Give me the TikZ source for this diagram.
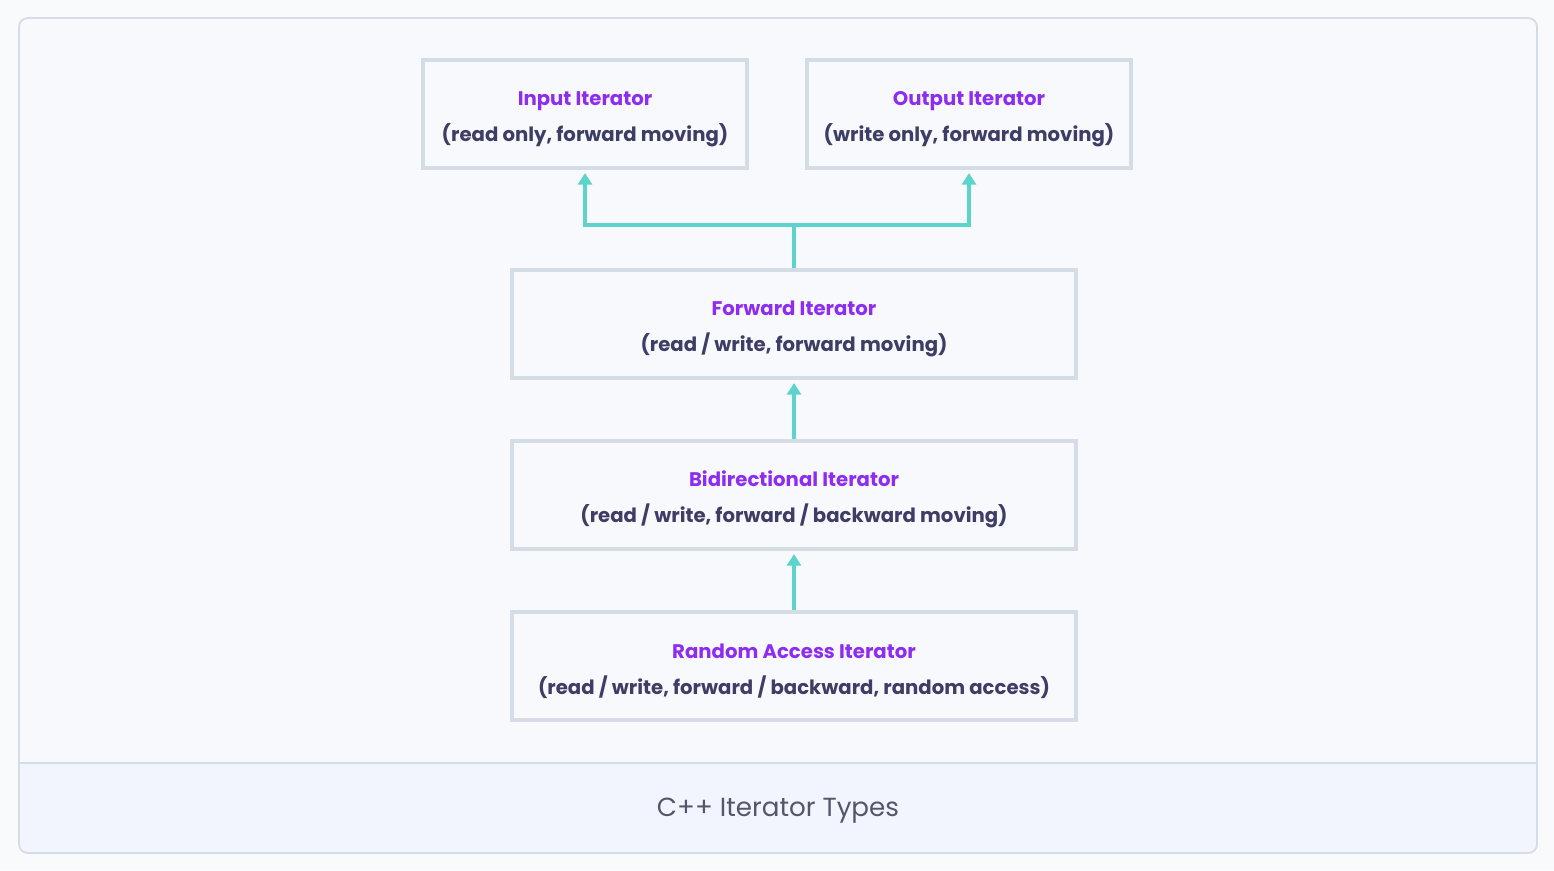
\documentclass[tikz,border=0pt]{standalone}
\usepackage{fontspec}
\setmainfont{Poppins}
\usetikzlibrary{arrows.meta,positioning}
\definecolor{pagebg}{HTML}{F9FAFB}
\definecolor{panelbg}{HTML}{F8F9FC}
\definecolor{footbg}{HTML}{F2F5FD}
\definecolor{boxline}{HTML}{D6DCE6}
\definecolor{purp}{HTML}{8E2DF0}
\definecolor{subtext}{HTML}{3E3D66}
\definecolor{linkteal}{HTML}{5CD3CB}
\definecolor{captiongray}{HTML}{55566A}
\newcommand\headline[1]{\rule{0pt}{14pt}\textcolor{purp}{#1}}
\begin{document}
\begin{tikzpicture}[x=0.02cm,y=-0.02cm,
    iter box/.style={draw=boxline, line width=1.9pt, fill=panelbg, minimum height=2.16cm,
        align=center, text=subtext, font=\bfseries\fontsize{11.2}{20.5}\selectfont},
    link/.style={draw=linkteal, line width=1.9pt, shorten >=2pt, -{Triangle[width=8pt,length=6.5pt]}},]
    \fill[pagebg] (0,0) rectangle (1554,870);
    \useasboundingbox (0,0) rectangle (1554,870);
    % frame and caption strip
    \fill[panelbg, rounded corners=5] (19,18) rectangle (1537,853);
    \fill[footbg] (19,763) -- (1537,763) [rounded corners=5] -- (1537,853) -- (19,853) [sharp corners] -- cycle;
    \draw[boxline, line width=1pt, rounded corners=5] (19,18) rectangle (1537,853);
    \draw[boxline, line width=1pt] (19,763) -- (1537,763);
    \node[text=captiongray, font=\fontsize{14.9}{17}\selectfont] (caption) at (778,811) {C++ Iterator Types};
    % iterator boxes
    \node[iter box, minimum width=6.48cm] (input) at (585,114) {\headline{Input Iterator}\\(read only, forward moving)};
    \node[iter box, minimum width=6.48cm] (output) at (969,114) {\headline{Output Iterator}\\(write only, forward moving)};
    \node[iter box, minimum width=11.28cm] (forward) at (794,324) {\headline{Forward Iterator}\\(read / write, forward moving)};
    \node[iter box, minimum width=11.28cm] (bidir) at (794,495) {\headline{Bidirectional Iterator}\\(read / write, forward / backward moving)};
    \node[iter box, minimum width=11.28cm] (random) at (794,666) {\headline{Random Access Iterator}\\(read / write, forward / backward, random access)};
    % links
    \coordinate (split) at (794,225);
    \draw[linkteal, line width=1.9pt] (forward.north) -- (split);
    \draw[link] (split) -| (input.south);
    \draw[link] (split) -| (output.south);
    \draw[link] (bidir.north) -- (forward.south);
    \draw[link] (random.north) -- (bidir.south);
\end{tikzpicture}
\end{document}
